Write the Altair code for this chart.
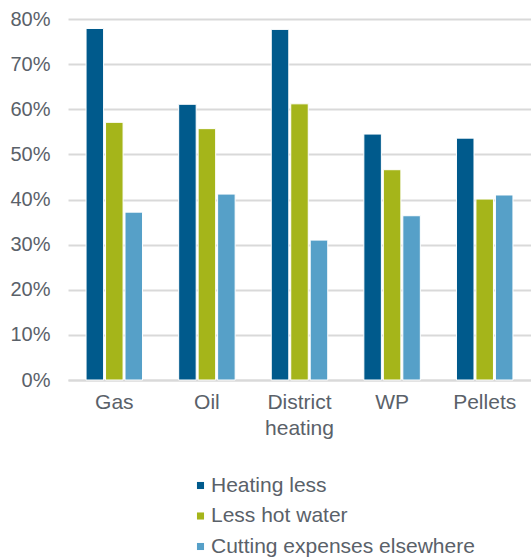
import altair as alt
import pandas as pd

categories = ["Gas", "Oil", "District heating", "WP", "Pellets"]
series = ["Heating less", "Less hot water", "Cutting expenses elsewhere"]
heating_less = [77.9, 61.1, 77.7, 54.5, 53.6]
less_hot_water = [57.1, 55.7, 61.2, 46.6, 40.1]
cutting_elsewhere = [37.2, 41.2, 31.0, 36.4, 41.0]
colors = ["#005A8C", "#A5B51A", "#56A0C8"]

rows = []
for values, name in zip([heating_less, less_hot_water, cutting_elsewhere], series):
    for cat, v in zip(categories, values):
        rows.append({"category": cat, "series": name, "value": v / 100})
df = pd.DataFrame(rows)

text_color = "#5A6169"
font = "Liberation Sans"

chart = (
    alt.Chart(df)
    .mark_bar(stroke="white", strokeWidth=1)
    .encode(
        x=alt.X(
            "category:N",
            sort=categories,
            scale=alt.Scale(paddingInner=0.39, paddingOuter=0.195),
            axis=alt.Axis(
                title=None,
                labelAngle=0,
                labelFontSize=21,
                labelFont=font,
                labelColor=text_color,
                labelPadding=11,
                labelLineHeight=26,
                labelExpr="split(datum.label, ' ')",
                ticks=False,
                domain=True,
                domainColor="#D9D9D9",
                domainWidth=2,
                grid=False,
            ),
        ),
        xOffset=alt.XOffset(
            "series:N", sort=series, scale=alt.Scale(paddingInner=0.1)
        ),
        y=alt.Y(
            "value:Q",
            scale=alt.Scale(domain=[0, 0.8]),
            axis=alt.Axis(
                title=None,
                format=".0%",
                values=[0, 0.1, 0.2, 0.3, 0.4, 0.5, 0.6, 0.7, 0.8],
                labelFontSize=20,
                labelFont=font,
                labelColor=text_color,
                labelPadding=18,
                ticks=False,
                domain=False,
                gridColor="#D9D9D9",
                gridWidth=2,
            ),
        ),
        color=alt.Color(
            "series:N",
            sort=series,
            scale=alt.Scale(domain=series, range=colors),
            legend=alt.Legend(
                title=None,
                orient="none",
                legendX=122,
                legendY=456,
                direction="vertical",
                symbolType="square",
                symbolSize=50,
                symbolStrokeWidth=0,
                labelFontSize=21,
                labelFont=font,
                labelColor=text_color,
                labelOffset=0,
                labelLimit=0,
                rowPadding=8.5,
            ),
        ),
    )
    .properties(
        width=463,
        height=361,
        autosize=alt.AutoSizeParams(type="none"),
        padding={"left": 68, "top": 19, "right": 0, "bottom": 179},
    )
    .configure_view(stroke=None)
)

chart.save("out.html", embed_options={"renderer": "svg", "actions": False})
